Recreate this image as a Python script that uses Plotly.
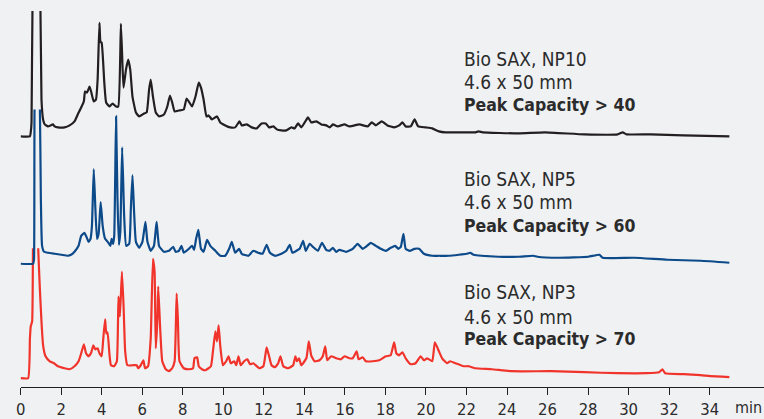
import plotly.graph_objects as go

# Retention time (min) and detector signal (arbitrary units above each trace's own baseline)
np10_time = [0, 0.46, 0.50, 0.54, 0.585, 0.78, 0.98, 1.03, 1.11, 1.19, 1.35, 1.60, 1.68, 1.84, 2.17, 2.42, 2.66, 2.82,
             2.99, 3.12, 3.18, 3.28, 3.40, 3.48, 3.61, 3.72, 3.80, 3.89, 3.94, 4.00, 4.13, 4.22, 4.38, 4.54, 4.71,
             4.82, 4.95, 5.03, 5.08, 5.20, 5.31, 5.41, 5.52, 5.69, 5.85, 6.09, 6.22, 6.34, 6.42, 6.53, 6.67, 6.83,
             7.07, 7.24, 7.37, 7.48, 7.60, 7.81, 8.05, 8.19, 8.30, 8.46, 8.63, 8.79, 8.90, 9.03, 9.17, 9.28, 9.44,
             9.69, 9.85, 10.10, 10.34, 10.59, 10.80, 10.91, 11.16, 11.40, 11.65, 11.89, 12.10, 12.26, 12.47, 12.64,
             12.87, 13.11, 13.36, 13.52, 13.69, 13.85, 14.02, 14.18, 14.34, 14.59, 14.84, 15.08, 15.25, 15.41,
             15.65, 15.98, 16.23, 16.72, 17.13, 17.33, 17.53, 17.82, 18.10, 18.43, 18.68, 18.84, 19.00, 19.25,
             19.44, 19.62, 19.98, 20.31, 20.64, 20.96, 21.45, 22.11, 22.45, 22.60, 22.80, 24.56, 25.86, 27.82,
             29.46, 29.71, 29.90, 31.09, 32.70, 34.97]
np10_signal = [0, 0, 4, 14, 126, 200, 126, 37, 17, 12, 10, 12, 10, 9, 9, 11, 15, 22,
               29, 35, 45, 44, 50, 45, 35, 37, 57, 114, 95, 94, 54, 34, 30, 33, 30,
               30, 113, 70, 49, 67, 77, 67, 40, 24, 20, 23, 24, 47, 57, 40, 24, 20,
               22, 30, 41, 34, 25, 26, 27, 38, 35, 30, 40, 54, 49, 37, 20, 21, 17,
               20, 14, 11, 9, 9, 15, 11, 12, 9, 8, 13, 13, 9, 10, 7,
               6, 6, 9, 8, 13, 9, 14, 19, 14, 15, 12, 11, 9, 12,
               10, 12, 10, 12, 10, 14, 11, 15, 11, 9, 11, 14, 10, 10,
               17, 10, 9, 8, 5, 4, 4, 4, 4, 5, 4, 3, 4, 2,
               2, 4, 2, 2, 1, 0]

np5_time = [0, 0.62, 0.66, 0.69, 0.82, 0.95, 1.00, 1.06, 1.16, 1.35, 1.68, 2.01, 2.33, 2.49, 2.66, 2.86, 2.99, 3.15,
            3.25, 3.35, 3.45, 3.52, 3.61, 3.69, 3.77, 3.85, 3.95, 4.05, 4.17, 4.30, 4.43, 4.49, 4.56, 4.62, 4.71,
            4.78, 4.85, 4.92, 5.01, 5.11, 5.21, 5.36, 5.44, 5.52, 5.60, 5.69, 5.85, 6.01, 6.16, 6.26, 6.42, 6.58,
            6.71, 6.83, 7.07, 7.32, 7.53, 7.65, 7.81, 7.94, 8.05, 8.30, 8.46, 8.56, 8.66, 8.77, 8.90, 9.03, 9.20,
            9.36, 9.61, 9.85, 10.10, 10.31, 10.42, 10.59, 10.78, 10.91, 11.24, 11.48, 11.73, 11.94, 12.14, 12.30,
            12.55, 12.87, 13.11, 13.28, 13.41, 13.61, 13.77, 13.94, 14.07, 14.26, 14.42, 14.67, 14.87, 15.08,
            15.25, 15.41, 15.57, 15.73, 16.06, 16.39, 16.63, 16.88, 17.04, 17.28, 17.53, 17.77, 18.02, 18.26,
            18.48, 18.64, 18.76, 18.89, 19.00, 19.20, 19.43, 19.66, 19.90, 20.31, 20.64, 21.13, 21.62, 22.00,
            22.19, 22.35, 23.58, 24.56, 25.29, 25.50, 26.54, 28.01, 28.56, 28.72, 30.27, 31.91, 33.55, 34.97]
np5_signal = [0, 0, 4, 160, 230, 160, 65, 18, 12, 11, 10, 9, 8, 9, 12, 18, 28, 31,
              27, 22, 25, 38, 95, 55, 25, 30, 62, 38, 25, 22, 18, 25, 20, 28, 148,
              65, 19, 32, 117, 48, 18, 20, 55, 89, 52, 22, 16, 22, 42, 22, 13, 18,
              42, 18, 12, 13, 17, 12, 13, 18, 11, 15, 18, 14, 25, 34, 15, 12, 24,
              18, 13, 8, 8, 16, 22, 11, 15, 10, 8, 13, 11, 10, 19, 11,
              8, 10, 13, 19, 11, 13, 15, 23, 13, 20, 17, 13, 21, 14,
              13, 16, 12, 14, 12, 15, 20, 15, 17, 21, 18, 15, 13, 16,
              18, 15, 17, 30, 15, 13, 15, 15, 10, 8, 8, 8, 9, 10,
              11, 9, 7, 7, 8, 7, 6, 7, 9, 6, 6, 4, 3, 1]

np3_time = [0, 0.37, 0.46, 0.50, 0.57, 0.62, 0.74, 0.86, 0.95, 1.03, 1.11, 1.23, 1.44, 1.65, 1.84, 2.17, 2.42, 2.66,
            2.86, 2.99, 3.12, 3.23, 3.35, 3.47, 3.59, 3.68, 3.80, 3.89, 4.00, 4.08, 4.17, 4.23, 4.29, 4.38, 4.46,
            4.62, 4.75, 4.83, 4.90, 5.00, 5.08, 5.16, 5.27, 5.52, 5.73, 5.80, 5.93, 6.06, 6.14, 6.29, 6.42, 6.53,
            6.61, 6.67, 6.75, 6.79, 6.88, 6.99, 7.16, 7.32, 7.48, 7.60, 7.70, 7.76, 7.84, 8.05, 8.30, 8.51, 8.58,
            8.71, 8.79, 8.95, 9.12, 9.39, 9.49, 9.61, 9.69, 9.77, 9.85, 9.98, 10.14, 10.26, 10.37, 10.54, 10.64,
            10.75, 10.86, 11.03, 11.19, 11.32, 11.48, 11.78, 11.98, 12.14, 12.25, 12.38, 12.55, 12.71, 12.82,
            12.96, 13.20, 13.45, 13.56, 13.64, 13.74, 13.85, 14.10, 14.22, 14.34, 14.50, 14.75, 14.91, 15.03,
            15.13, 15.32, 15.57, 15.81, 15.98, 16.23, 16.39, 16.58, 16.68, 16.88, 17.04, 17.37, 17.70, 18.02,
            18.26, 18.43, 18.54, 18.68, 18.84, 19.00, 19.25, 19.49, 19.74, 19.90, 20.06, 20.31, 20.44, 20.64,
            20.80, 21.04, 21.20, 21.45, 21.86, 22.11, 22.43, 23.25, 24.23, 26.19, 27.82, 29.46, 30.90, 31.50,
            31.67, 31.80, 32.72, 33.55, 34.03, 34.97]
np3_signal = [0, 0, 40, 52, 57, 160, 230, 135, 90, 57, 33, 22, 17, 15, 12, 10, 9, 12,
              17, 25, 34, 25, 22, 25, 33, 29, 30, 25, 22, 40, 59, 45, 46, 25, 13,
              12, 17, 82, 62, 107, 73, 27, 13, 13, 13, 10, 13, 18, 10, 12, 40, 120,
              107, 30, 60, 92, 53, 17, 9, 7, 10, 17, 85, 60, 17, 10, 9, 10, 20,
              21, 12, 9, 8, 12, 27, 47, 37, 53, 33, 13, 17, 22, 15, 17, 13,
              22, 13, 17, 19, 14, 15, 10, 12, 31, 23, 13, 11, 15, 22,
              12, 10, 13, 22, 17, 20, 13, 20, 37, 23, 17, 18, 22, 32,
              18, 22, 20, 19, 22, 20, 20, 27, 19, 21, 17, 17, 18, 22,
              23, 36, 25, 23, 26, 20, 14, 15, 22, 18, 20, 17, 36, 27,
              20, 15, 17, 15, 12, 12, 10, 9, 7, 7, 6, 5, 5, 6,
              9, 5, 4, 3, 2, 1]

tick_values = list(range(0, 35, 2))
tick_labels = [str(v) for v in tick_values]

labels = [
    ("Bio SAX, NP10", "4.6 x 50 mm", "Peak Capacity > 40"),
    ("Bio SAX, NP5", "4.6 x 50 mm", "Peak Capacity > 60"),
    ("Bio SAX, NP3", "4.6 x 50 mm", "Peak Capacity > 70"),
]

W, H = 764, 419
FONT = "DejaVu Sans Condensed, sans-serif"
TXT = "#2b2b2b"


def frac(py):
    return (H - py) / H


fig = go.Figure()
fig.add_trace(go.Scatter(x=np3_time, y=np3_signal, mode="lines", xaxis="x", yaxis="y",
                         line=dict(color="#f0342b", width=2.2, shape="spline", smoothing=0.4), hoverinfo="skip"))
fig.add_trace(go.Scatter(x=np5_time, y=np5_signal, mode="lines", xaxis="x", yaxis="y2",
                         line=dict(color="#0d4a8a", width=2.2, shape="spline", smoothing=0.4), hoverinfo="skip"))
fig.add_trace(go.Scatter(x=np10_time, y=np10_signal, mode="lines", xaxis="x", yaxis="y3",
                         line=dict(color="#231f20", width=2.2, shape="spline", smoothing=0.4), hoverinfo="skip"))

axis_bottom = 389
hidden = dict(visible=False, showgrid=False, zeroline=False, fixedrange=True)
fig.update_layout(
    width=W, height=H,
    margin=dict(l=0, r=0, t=0, b=0),
    paper_bgcolor="#f0f1f3",
    plot_bgcolor="rgba(0,0,0,0)",
    showlegend=False,
    xaxis=dict(domain=[15.7 / W, 1], range=[0, 36.68], anchor="y",
               tickvals=tick_values, ticktext=tick_labels,
               ticks="outside", ticklen=7, tickwidth=1.3, tickcolor="#231f20",
               showline=True, linecolor="#231f20", linewidth=1.3,
               showgrid=False, zeroline=False,
               tickfont=dict(family=FONT, size=16.5, color=TXT)),
    yaxis=dict(domain=[frac(axis_bottom), frac(249.5)], range=[-9, 130.5], anchor="x", **hidden),
    yaxis2=dict(domain=[frac(axis_bottom), frac(110)], range=[-124, 155], anchor="x", **hidden),
    yaxis3=dict(domain=[frac(axis_bottom), frac(11)], range=[-252, 126], anchor="x", **hidden),
)

label_rows = [(59.3, 82.3, 105.7), (180.3, 203.3, 226.7), (293.3, 318.3, 340.7)]
for (l1, l2, l3), (y1, y2, y3) in zip(labels, label_rows):
    for text, py, bold in ((l1, y1, False), (l2, y2, False), (l3, y3, True)):
        fig.add_annotation(text=f"<b>{text}</b>" if bold else text,
                           xref="paper", yref="paper", x=460.5 / W, y=frac(py),
                           xanchor="left", yanchor="middle", showarrow=False,
                           font=dict(family=FONT, size=17.5 if bold else 19, color=TXT))

fig.add_annotation(text="min", xref="paper", yref="paper", x=733 / W, y=frac(409),
                   xanchor="left", yanchor="middle", showarrow=False,
                   font=dict(family=FONT, size=16, color=TXT))

fig.write_html("out.html")
